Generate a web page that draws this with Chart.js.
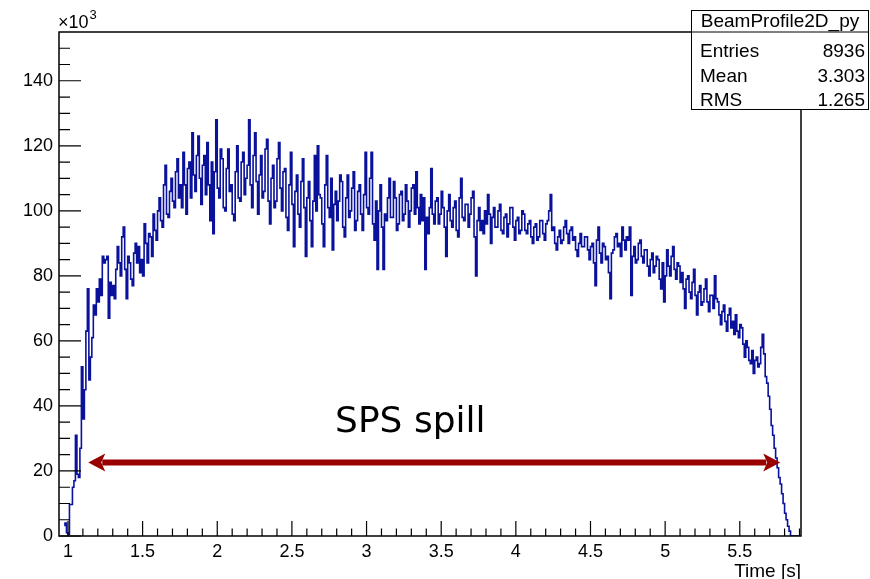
<!DOCTYPE html>
<html>
<head>
<meta charset="utf-8">
<script src="https://cdn.jsdelivr.net/npm/chart.js@4"></script>
<style>
html, body { margin: 0; padding: 0; background: #fff; }
#wrap { width: 870px; height: 579px; }
</style>
</head>
<body>
<div id="wrap"><canvas id="profile"></canvas></div>
<script>
// histogram: bins of 0.01 s starting at 0.98 s, contents in units of 10^3
var binStart = 0.98;
var binWidth = 0.01;
var counts = [
    3, 4, 1, 0.5, 9.7, 9.7, 15, 17, 31, 19,                 // 0.98
    18, 27, 52, 36, 45, 63, 76, 48, 55, 61,                 // 1.08
    71, 68, 76, 72, 79, 74, 86, 84, 85, 86,                 // 1.18
    67, 78, 74, 77, 73, 82, 89, 84, 80, 92,                 // 1.28
    95, 82, 73, 86, 84, 79, 77, 87, 90, 84,                 // 1.38
    89, 81, 85, 80, 96, 90, 84, 93, 92, 86,                 // 1.48
    99, 94, 91, 100, 104, 97, 95, 108, 114, 99,             // 1.58
    98, 106, 110, 103, 101, 112, 116, 104, 108, 101,        // 1.68
    118, 108, 99, 113, 115, 104, 124, 111, 106, 117,        // 1.78
    123, 110, 102, 114, 117, 105, 121, 108, 97, 115,        // 1.88
    93, 112, 128, 107, 104, 119, 116, 101, 100, 113,        // 1.98
    119, 106, 108, 99, 97, 112, 120, 104, 103, 115,         // 2.08
    118, 105, 110, 114, 128, 108, 101, 117, 124, 109,       // 2.18
    99, 111, 117, 104, 106, 119, 122, 103, 96, 110,         // 2.28
    114, 101, 103, 116, 121, 107, 100, 112, 113, 98,        // 2.38
    94, 108, 118, 102, 89, 106, 111, 99, 95, 109,           // 2.48
    116, 101, 86, 104, 109, 97, 89, 103, 117, 100,          // 2.58
    120, 105, 104, 96, 89, 108, 117, 101, 98, 110,          // 2.68
    88, 102, 106, 97, 103, 111, 109, 95, 92, 104,           // 2.78
    111, 98, 100, 107, 112, 94, 97, 106, 108, 99,           // 2.88
    94, 105, 118, 101, 99, 110, 118, 96, 91, 103,           // 2.98
    82, 100, 108, 95, 82, 99, 97, 104, 110, 98,             // 3.08
    98, 109, 104, 94, 96, 105, 106, 97, 99, 108,            // 3.18
    103, 95, 100, 107, 108, 99, 112, 101, 96, 105,          // 3.28
    97, 104, 82, 98, 93, 101, 113, 99, 96, 103,             // 3.38
    104, 96, 99, 106, 101, 95, 86, 100, 105, 97,            // 3.48
    95, 101, 103, 94, 92, 104, 110, 98, 97, 102,            // 3.58
    102, 95, 99, 104, 106, 92, 80, 97, 101, 94,             // 3.68
    97, 93, 100, 96, 105, 99, 90, 98, 101, 95,              // 3.78
    95, 100, 102, 94, 93, 98, 99, 92, 96, 101,              // 3.88
    101, 95, 91, 97, 98, 93, 94, 100, 99, 94,               // 3.98
    93, 96, 97, 92, 90, 95, 96, 91, 92, 97,                 // 4.08
    97, 93, 91, 96, 97, 100, 105, 94, 95, 90,               // 4.18
    88, 92, 94, 90, 91, 95, 97, 93, 90, 94,                 // 4.28
    95, 91, 92, 88, 86, 90, 93, 89, 89, 92,                 // 4.38
    92, 88, 85, 89, 90, 84, 77, 91, 95, 87,                 // 4.48
    84, 90, 89, 85, 86, 81, 73, 87, 88, 92,                 // 4.58
    93, 89, 90, 86, 95, 91, 88, 92, 91, 95,                 // 4.68
    74, 86, 89, 84, 85, 90, 91, 86, 84, 88,                 // 4.78
    88, 83, 80, 85, 87, 81, 83, 86, 85, 79,                 // 4.88
    76, 84, 72, 80, 88, 83, 80, 86, 89, 82,                 // 4.98
    79, 84, 83, 78, 81, 76, 70, 79, 80, 75,                 // 5.08
    73, 78, 82, 74, 68, 75, 77, 71, 72, 76,                 // 5.18
    79, 72, 69, 74, 74, 70, 80, 73, 72, 68,                 // 5.28
    65, 69, 71, 66, 63, 68, 70, 64, 66, 62,                 // 5.38
    68, 63, 61, 65, 64, 59, 55, 60, 58, 54,                 // 5.48
    53, 57, 50, 54, 55, 52, 53, 58, 62, 56,                 // 5.58
    49, 47, 43, 39, 34, 31, 27, 24, 21, 18,                 // 5.68
    16, 13, 10, 7, 5, 3, 1.5, 0, 0, 0,                      // 5.78
    0, 0                                                    // 5.88
];
var xTicks = [1, 1.5, 2, 2.5, 3, 3.5, 4, 4.5, 5, 5.5];
var yTicks = [0, 20, 40, 60, 80, 100, 120, 140];
var statNames = ["Entries", "Mean", "RMS"];
var statValues = ["8936", "3.303", "1.265"];
var histName = "BeamProfile2D_py";
var spillLabel = "SPS spill";
var spillFrom = 1.136, spillTo = 5.771, spillLevel = 22.6;
var spillLabelAt = 3.293;

Chart.defaults.font.family = "'Liberation Sans', Arial, sans-serif";
Chart.defaults.color = '#000';

var points = [];
for (var i = 0; i < counts.length; i++) {
    points.push({x: binStart + i * binWidth, y: counts[i]});
}
points.push({x: binStart + counts.length * binWidth, y: 0});

function arrowHead(ctx, x, y, dir) {
    ctx.beginPath();
    ctx.moveTo(x, y);
    ctx.lineTo(x + dir * 17, y - 9);
    ctx.lineTo(x + dir * 13, y);
    ctx.lineTo(x + dir * 17, y + 9);
    ctx.closePath();
    ctx.fill();
}

var rootLook = {
    id: 'rootLook',
    afterDatasetsDraw: function (chart) {
        var ctx = chart.ctx;
        var a = chart.chartArea;
        var xs = chart.scales.x, ys = chart.scales.y;
        ctx.save();

        // spill arrow and label
        var x1 = xs.getPixelForValue(spillFrom), x2 = xs.getPixelForValue(spillTo);
        var yy = ys.getPixelForValue(spillLevel);
        ctx.strokeStyle = '#990000';
        ctx.fillStyle = '#990000';
        ctx.lineWidth = 6;
        ctx.beginPath();
        ctx.moveTo(x1 + 14, yy);
        ctx.lineTo(x2 - 14, yy);
        ctx.stroke();
        arrowHead(ctx, x1, yy, 1);
        arrowHead(ctx, x2, yy, -1);
        ctx.fillStyle = '#000';
        ctx.font = "36px 'DejaVu Sans'";
        ctx.textAlign = 'center';
        ctx.textBaseline = 'alphabetic';
        ctx.fillText(spillLabel, xs.getPixelForValue(spillLabelAt), yy - 31);

        // frame
        ctx.strokeStyle = '#000';
        ctx.lineWidth = 1.5;
        ctx.strokeRect(a.left, a.top, a.right - a.left, a.bottom - a.top);

        // inward ticks
        ctx.lineWidth = 1.2;
        ctx.beginPath();
        for (var k = 10; k <= 59; k++) {
            var px = xs.getPixelForValue(k / 10);
            ctx.moveTo(px, a.bottom);
            ctx.lineTo(px, a.bottom - (k % 5 === 0 ? 15 : 7.5));
        }
        for (var m = 0; m <= 30; m++) {
            var py = ys.getPixelForValue(m * 5);
            ctx.moveTo(a.left, py);
            ctx.lineTo(a.left + (m % 4 === 0 ? 22 : 11), py);
        }
        ctx.stroke();

        // axis extras
        ctx.textBaseline = 'alphabetic';
        ctx.textAlign = 'left';
        ctx.font = "18px 'Liberation Sans'";
        ctx.fillText("\u00d710", a.left - 1, 28);
        var w = ctx.measureText("\u00d710").width;
        ctx.font = "13px 'Liberation Sans'";
        ctx.fillText("3", a.left - 1 + w + 1, 19);
        ctx.font = "19px 'Liberation Sans'";
        ctx.textAlign = 'right';
        ctx.fillText("Time [s]", a.right, 577);
        ctx.restore();
    },
    afterDraw: function (chart) {
        var ctx = chart.ctx;
        ctx.save();
        var bx = 691, by = 10, bw = 178, bh = 99;
        ctx.fillStyle = '#fff';
        ctx.fillRect(bx, by, bw, bh);
        ctx.strokeStyle = '#000';
        ctx.lineWidth = 1;
        ctx.strokeRect(bx + 0.5, by + 0.5, bw - 1, bh);
        ctx.beginPath();
        ctx.moveTo(bx, 32);
        ctx.lineTo(bx + bw, 32);
        ctx.stroke();
        ctx.fillStyle = '#000';
        ctx.font = "19px 'Liberation Sans'";
        ctx.textBaseline = 'alphabetic';
        ctx.textAlign = 'center';
        ctx.fillText(histName, bx + bw / 2, 27);
        var rows = [57, 82, 106];
        for (var r = 0; r < statNames.length; r++) {
            ctx.textAlign = 'left';
            ctx.fillText(statNames[r], 700, rows[r]);
            ctx.textAlign = 'right';
            ctx.fillText(statValues[r], 865, rows[r]);
        }
        ctx.restore();
    }
};

new Chart(document.getElementById('profile'), {
    type: 'line',
    data: {
        datasets: [{
            label: histName,
            data: points,
            stepped: 'after',
            borderColor: '#0a129c',
            borderWidth: 1.6,
            pointRadius: 0,
            fill: false
        }]
    },
    options: {
        responsive: true,
        maintainAspectRatio: false,
        animation: false,
        layout: { padding: { top: 32, right: 69, left: 0, bottom: 0 } },
        plugins: { legend: { display: false }, tooltip: { enabled: false } },
        scales: {
            x: {
                type: 'linear',
                min: 0.94,
                max: 5.91,
                grid: { display: false, drawTicks: false },
                border: { display: false },
                afterBuildTicks: function (s) {
                    s.ticks = xTicks.map(function (v) { return {value: v}; });
                },
                afterFit: function (s) { s.height = 43; },
                ticks: {
                    padding: 5,
                    maxRotation: 0,
                    autoSkip: false,
                    font: { size: 18 },
                    callback: function (v) { return String(v); }
                }
            },
            y: {
                type: 'linear',
                min: 0,
                max: 155,
                grid: { display: false, drawTicks: false },
                border: { display: false },
                afterBuildTicks: function (s) {
                    s.ticks = yTicks.map(function (v) { return {value: v}; });
                },
                afterFit: function (s) { s.width = 59; },
                ticks: {
                    padding: 6,
                    autoSkip: false,
                    font: { size: 18 },
                    callback: function (v) { return String(v); }
                }
            }
        }
    },
    plugins: [rootLook]
});
</script>
</body>
</html>
